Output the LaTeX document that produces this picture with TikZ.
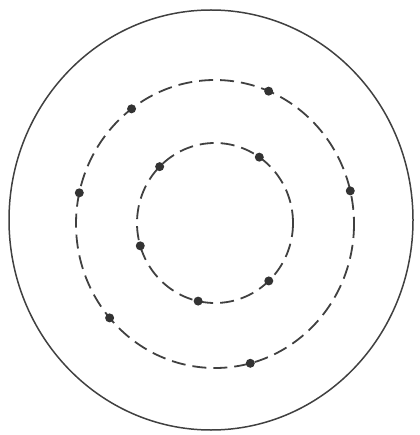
\documentclass[tikz,border=0pt]{standalone}
\begin{document}
\begin{tikzpicture}[x=1pt,y=-1pt,
  ring/.style={draw=black!75, line width=1.5pt},
  dashring/.style={draw=black!75, line width=1.8pt, dash pattern=on 14pt off 7pt},
  dot/.style={circle, fill=black!80, inner sep=0pt, minimum size=9pt}]
\useasboundingbox (0,0) rectangle (419,435);
\coordinate (c0) at (211,220);
\coordinate (cm) at (215,224);
\coordinate (ci) at (215,223);
\draw[ring] (c0) ellipse [x radius=202, y radius=210];
\draw[dashring] (cm) ellipse [x radius=139, y radius=144];
\draw[dashring] (ci) ellipse [x radius=78, y radius=80];
% electrons on the middle ring
\path (cm) ++(233.1:139 and 144) node[dot] (m1) {};
\path (cm) ++(292.7:139 and 144) node[dot] (m2) {};
\path (cm) ++(346.7:139 and 144) node[dot] (m3) {};
\path (cm) ++(192.5:139 and 144) node[dot] (m4) {};
\path (cm) ++(139.3:139 and 144) node[dot] (m5) {};
\path (cm) ++(75.3:139 and 144) node[dot] (m6) {};
% electrons on the inner ring
\path (ci) ++(224.8:78 and 80) node[dot] (i1) {};
\path (ci) ++(304.6:78 and 80) node[dot] (i2) {};
\path (ci) ++(163.4:78 and 80) node[dot] (i3) {};
\path (ci) ++(102.5:78 and 80) node[dot] (i4) {};
\path (ci) ++(46.4:78 and 80) node[dot] (i5) {};
\end{tikzpicture}
\end{document}
